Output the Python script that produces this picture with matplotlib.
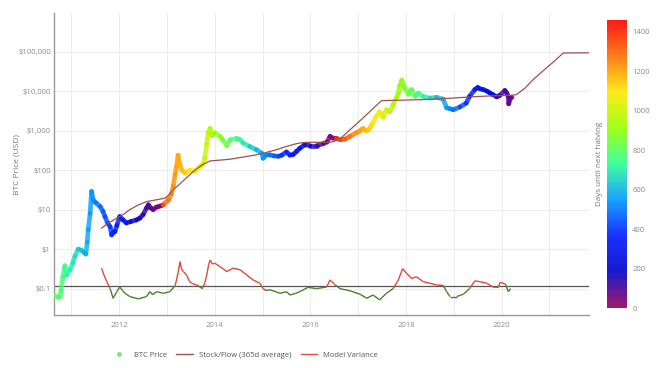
import numpy as np
import matplotlib
matplotlib.use('Agg')
import matplotlib.pyplot as plt
from matplotlib.collections import LineCollection
from matplotlib.colors import LinearSegmentedColormap, Normalize
from matplotlib.lines import Line2D
from matplotlib.ticker import FixedLocator, FuncFormatter, NullLocator

plt.rcParams['font.family'] = ['Open Sans', 'DejaVu Sans']

# BTC price (decimal year, USD)
price_year = [2010.62, 2010.72, 2010.76, 2010.78, 2010.82, 2010.86, 2010.90, 2010.97, 2011.03, 2011.07,
              2011.14, 2011.20, 2011.25, 2011.30, 2011.33, 2011.35, 2011.39, 2011.42, 2011.46, 2011.51,
              2011.60, 2011.66, 2011.70, 2011.76, 2011.81, 2011.84, 2011.87, 2011.91, 2011.95, 2012.01,
              2012.08, 2012.15, 2012.24, 2012.36, 2012.43, 2012.50, 2012.57, 2012.61, 2012.66, 2012.71,
              2012.77, 2012.82, 2012.87, 2012.92, 2013.03, 2013.09, 2013.13, 2013.17, 2013.20, 2013.23,
              2013.27, 2013.31, 2013.37, 2013.48, 2013.58, 2013.69, 2013.75, 2013.79, 2013.83, 2013.86,
              2013.90, 2013.94, 2014.00, 2014.11, 2014.17, 2014.25, 2014.32, 2014.46, 2014.53, 2014.59,
              2014.73, 2014.87, 2014.98, 2015.01, 2015.07, 2015.15, 2015.24, 2015.33, 2015.40, 2015.50,
              2015.57, 2015.64, 2015.71, 2015.78, 2015.88, 2015.99, 2016.13, 2016.27, 2016.35, 2016.41,
              2016.47, 2016.55, 2016.62, 2016.72, 2016.83, 2016.97, 2017.04, 2017.10, 2017.16, 2017.21,
              2017.26, 2017.31, 2017.38, 2017.45, 2017.52, 2017.59, 2017.66, 2017.73, 2017.80, 2017.84,
              2017.87, 2017.91, 2017.95, 2017.98, 2018.05, 2018.09, 2018.12, 2018.19, 2018.26, 2018.36,
              2018.50, 2018.64, 2018.78, 2018.85, 2018.92, 2018.99, 2019.13, 2019.26, 2019.33, 2019.44,
              2019.50, 2019.55, 2019.62, 2019.70, 2019.76, 2019.82, 2019.90, 2019.96, 2020.07, 2020.11,
              2020.14, 2020.15, 2020.19, 2020.22]
price_usd = [0.07, 0.06, 0.063, 0.09, 0.2, 0.38, 0.22, 0.3, 0.45, 0.65,
             1.0, 0.95, 0.85, 0.75, 1.5, 3.1, 8, 29, 17, 15,
             12, 9, 6.7, 4.5, 3.7, 2.3, 2.6, 2.8, 4, 6.7,
             5.5, 4.6, 5, 5.5, 6.1, 7.5, 11, 13.3, 11, 10,
             11.5, 12, 12.5, 13.3, 17.7, 25, 39, 80, 125, 240,
             140, 100, 85, 100, 94, 125, 140, 200, 450, 880,
             1150, 750, 880, 720, 580, 420, 590, 640, 590, 490,
             400, 330, 270, 200, 240, 245, 230, 225, 240, 290,
             240, 250, 300, 360, 440, 420, 420, 470, 520, 720,
             650, 640, 590, 610, 720, 900, 1000, 1150, 1000, 1050,
             1250, 1600, 2300, 3000, 2200, 3400, 3000, 4600, 6800, 9000,
             14000, 19000, 14000, 11500, 8300, 10500, 11000, 7400, 9000, 7400,
             6700, 7000, 6300, 3800, 3600, 3400, 4000, 5000, 7400, 11000,
             12500, 11500, 11000, 10000, 9000, 8200, 7200, 7800, 10500, 9000,
             7400, 4800, 6800, 7000]

# Stock/Flow model (365d average)
sf_year = [2011.63, 2011.76, 2011.95, 2012.08, 2012.22, 2012.39, 2012.57, 2012.78, 2012.96, 2013.04,
           2013.13, 2013.27, 2013.41, 2013.58, 2013.75, 2013.90, 2014.11, 2014.32, 2014.59, 2014.87,
           2015.07, 2015.29, 2015.50, 2015.71, 2015.84, 2015.99, 2016.20, 2016.41, 2016.52, 2016.62,
           2016.83, 2017.04, 2017.25, 2017.49, 2017.80, 2018.28, 2018.78, 2019.13, 2019.44, 2019.76,
           2020.21, 2020.31, 2020.49, 2020.66, 2020.94, 2021.12, 2021.29, 2021.53, 2021.85]
sf_usd = [3.4, 4.5, 6.1, 7.5, 10, 13, 16, 17.8, 19.6, 24,
          32, 45, 65, 100, 140, 172, 180, 190, 215, 245,
          280, 330, 400, 470, 500, 510, 510, 510, 550, 620,
          1060, 1800, 3100, 5800, 5900, 6100, 6500, 6900, 7300, 7600,
          7900, 8200, 12000, 19700, 39000, 60000, 93000, 93500, 94000]

# Model variance
var_year = [2011.63, 2011.68, 2011.74, 2011.81, 2011.87, 2011.95, 2012.01, 2012.07, 2012.12, 2012.22,
            2012.40, 2012.57, 2012.64, 2012.70, 2012.78, 2012.92, 2013.06, 2013.17, 2013.23, 2013.27,
            2013.30, 2013.34, 2013.41, 2013.46, 2013.51, 2013.62, 2013.74, 2013.79, 2013.83, 2013.87,
            2013.90, 2013.95, 2014.00, 2014.11, 2014.25, 2014.38, 2014.53, 2014.67, 2014.80, 2014.94,
            2015.01, 2015.07, 2015.15, 2015.26, 2015.36, 2015.50, 2015.57, 2015.68, 2015.78, 2015.95,
            2016.13, 2016.34, 2016.41, 2016.52, 2016.62, 2016.83, 2017.04, 2017.18, 2017.31, 2017.45,
            2017.59, 2017.73, 2017.84, 2017.93, 2018.01, 2018.12, 2018.22, 2018.36, 2018.50, 2018.64,
            2018.78, 2018.85, 2018.92, 2019.06, 2019.20, 2019.33, 2019.44, 2019.55, 2019.69, 2019.82,
            2019.93, 2019.97, 2020.08, 2020.14, 2020.19]
var_val = [0.33, 0.22, 0.15, 0.10, 0.057, 0.084, 0.11, 0.09, 0.076, 0.063,
           0.055, 0.063, 0.084, 0.07, 0.084, 0.076, 0.084, 0.12, 0.25, 0.48,
           0.32, 0.27, 0.22, 0.16, 0.137, 0.124, 0.10, 0.14, 0.22, 0.40,
           0.53, 0.42, 0.44, 0.36, 0.27, 0.33, 0.30, 0.22, 0.166, 0.137,
           0.10, 0.09, 0.093, 0.085, 0.076, 0.084, 0.069, 0.075, 0.084, 0.108,
           0.10, 0.11, 0.166, 0.124, 0.10, 0.088, 0.072, 0.057, 0.069, 0.052,
           0.076, 0.10, 0.166, 0.32, 0.245, 0.18, 0.20, 0.15, 0.137, 0.124,
           0.12, 0.084, 0.063, 0.063, 0.072, 0.10, 0.157, 0.15, 0.137, 0.11,
           0.108, 0.145, 0.13, 0.084, 0.10]
var_line = 0.117

halvings = [2012.908, 2016.521, 2020.358]
x_ticks = [2012, 2014, 2016, 2018, 2020]
y_ticks = [0.1, 1, 10, 100, 1000, 10000, 100000]
y_labels = ['$0.1', '$1', '$10', '$100', '$1,000', '$10,000', '$100,000']
cb_ticks = [0, 200, 400, 600, 800, 1000, 1200, 1400]

# plotly "Rainbow" colorscale
rainbow = LinearSegmentedColormap.from_list('rainbow_pl', [
    (0.0, (150/255, 0, 90/255)), (0.125, (0, 0, 200/255)), (0.25, (0, 25/255, 1)),
    (0.375, (0, 152/255, 1)), (0.5, (44/255, 1, 150/255)), (0.625, (151/255, 1, 0)),
    (0.75, (1, 234/255, 0)), (0.875, (1, 111/255, 0)), (1.0, (1, 0, 0))])

def days_to_halving(t):
    nxt = min(h for h in halvings if h > t)
    return (nxt - t) * 365.25

grey = '#8a8a8a'
fig = plt.figure(figsize=(6.57, 3.68), dpi=100)
ax = fig.add_axes([0.0816, 0.1432, 0.8149, 0.8215])
cax = fig.add_axes([0.924, 0.163, 0.030, 0.783])

ax.set_yscale('log')
ax.set_xlim(2010.626, 2021.83)
ax.set_ylim(0.0211, 9.6e5)

# price, coloured by days until next halving
pts = np.column_stack([price_year, price_usd])
segs = np.stack([pts[:-1], pts[1:]], axis=1)
mids = [(a + b) / 2 for a, b in zip(price_year[:-1], price_year[1:])]
lc = LineCollection(segs, cmap=rainbow, norm=Normalize(0, 1460), linewidths=3.4,
                    capstyle='round', joinstyle='round', alpha=0.8, zorder=3)
lc.set_array(np.array([days_to_halving(m) for m in mids]))
ax.add_collection(lc)

ax.plot(sf_year, sf_usd, color='#a0504f', lw=0.9, zorder=4)

# variance: red above the line, green below
vp = np.column_stack([var_year, var_val])
vsegs = np.stack([vp[:-1], vp[1:]], axis=1)
vcol = ['#e0493a' if (a + b) / 2 > var_line else '#4f7f2f' for a, b in zip(var_val[:-1], var_val[1:])]
ax.add_collection(LineCollection(vsegs, colors=vcol, linewidths=1.0, zorder=3))
ax.axhline(var_line, color='#555555', lw=0.9, zorder=2)

ax.grid(True, color='#ededed', lw=0.8)
ax.set_axisbelow(True)
ax.xaxis.set_major_locator(FixedLocator(range(2011, 2022)))
ax.xaxis.set_major_formatter(FuncFormatter(lambda v, p: str(int(v)) if int(v) in x_ticks else ''))
ax.yaxis.set_major_locator(FixedLocator(y_ticks))
ax.yaxis.set_major_formatter(FuncFormatter(lambda v, p: y_labels[y_ticks.index(v)] if v in y_ticks else ''))
ax.yaxis.set_minor_locator(NullLocator())
ax.tick_params(length=0, labelsize=5.5, labelcolor=grey)
ax.tick_params(axis='x', pad=5)
ax.tick_params(axis='y', pad=2)
for s in ['top', 'right']:
    ax.spines[s].set_visible(False)
for s in ['left', 'bottom']:
    ax.spines[s].set_color('#999999')
    ax.spines[s].set_linewidth(1)
ax.set_ylabel('BTC Price (USD)', fontsize=6, color='#777777')
ax.yaxis.set_label_coords(-0.061, 0.5)

cb = fig.colorbar(lc, cax=cax)
cb.solids.set_alpha(0.9)
cb.outline.set_visible(False)
cb.set_ticks(cb_ticks)
cax.tick_params(length=0, labelsize=5.5, labelcolor=grey, pad=4)
cb.set_label('Days until next halving', fontsize=5.8, color='#777777', labelpad=3)
cax.yaxis.set_label_position('left')

handles = [Line2D([], [], marker='o', ls='', color='#86e086', ms=2.5),
           Line2D([], [], color='#a0504f', lw=1),
           Line2D([], [], color='#e0493a', lw=1)]
fig.legend(handles, ['BTC Price', 'Stock/Flow (365d average)', 'Model Variance'],
           loc='center', bbox_to_anchor=(0.372, 0.035), ncol=3, frameon=False,
           fontsize=5.5, handlelength=2.2, columnspacing=1.2, labelcolor='#555555')

fig.savefig('out.png', dpi=100)
